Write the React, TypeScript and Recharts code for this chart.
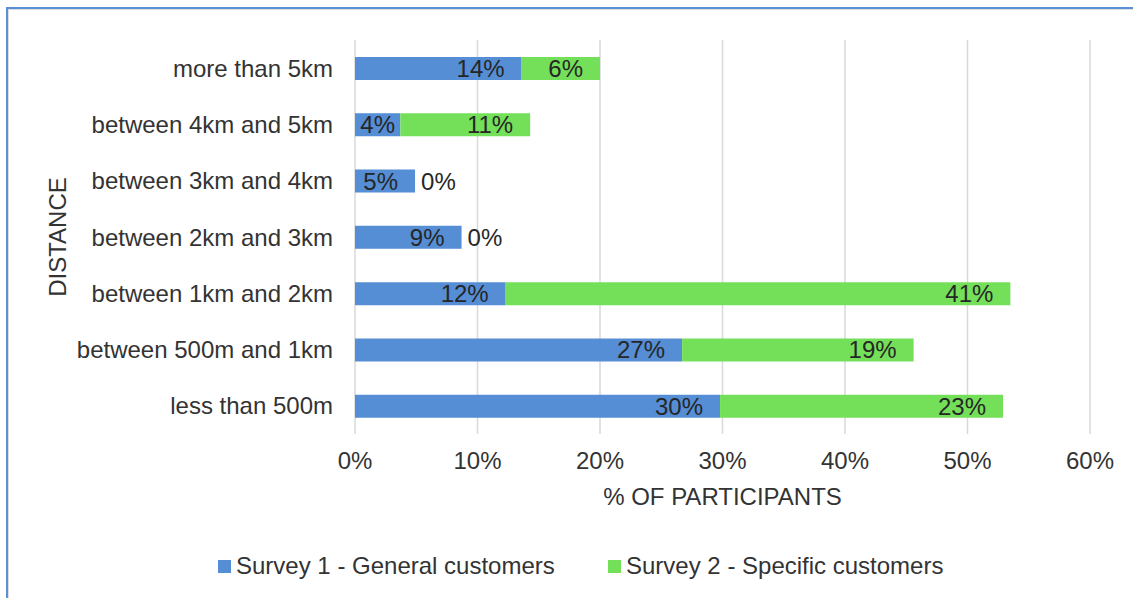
import React from 'react';
import { BarChart, Bar, XAxis, YAxis, CartesianGrid, Legend, LabelList } from 'recharts';

// Values (percent of participants)
const distances = [
  'more than 5km',
  'between 4km and 5km',
  'between 3km and 4km',
  'between 2km and 3km',
  'between 1km and 2km',
  'between 500m and 1km',
  'less than 500m',
];
const survey1 = [13.6, 3.7, 4.9, 8.7, 12.3, 26.7, 29.8];
const survey2 = [6.4, 10.6, 0, 0, 41.2, 18.9, 23.1];
const xTicks = [0, 10, 20, 30, 40, 50, 60];

const SERIES = [
  { key: 's1', name: 'Survey 1 - General customers', color: '#558ED5' },
  { key: 's2', name: 'Survey 2 - Specific customers', color: '#74E05A' },
];

const FONT = '"Liberation Sans", Arial, sans-serif';
const FS = 24;
const TEXT = '#333333';

const data = distances.map((name, i) => ({ name, s1: survey1[i], s2: survey2[i] }));

function labelText(tx: number, cy: number, anchor: 'start' | 'middle' | 'end', v: number, key?: string) {
  return (
    <text key={key} x={tx} y={cy} textAnchor={anchor} dominantBaseline="central"
      fontFamily={FONT} fontSize={FS} fill="#262626">
      {v}%
    </text>
  );
}

// Excel-style "inside end" labels
function insideEnd(x: number, y: number, width: number, height: number, value: number) {
  const v = Math.round(value);
  const cy = y + height / 2;
  if (width < 55) return labelText(x + width / 2, cy, 'middle', v);
  return labelText(x + width - 17, cy, 'end', v);
}

// survey 1 label also carries the "0%" of an empty survey 2 segment, just right of the stack
function Survey1Label(props: any) {
  const { x, y, width, height, value, index } = props;
  const zero = survey2[index] === 0;
  return (
    <g>
      {insideEnd(x, y, width, height, value)}
      {zero && labelText(x + width + 6, y + height / 2, 'start', 0)}
    </g>
  );
}

function Survey2Label(props: any) {
  const { x, y, width, height, value } = props;
  if (!value) return null;
  return insideEnd(x, y, width, height, value);
}

function renderLegend() {
  return (
    <div style={{ height: 40, display: 'flex', alignItems: 'center', fontFamily: FONT, fontSize: FS, color: TEXT }}>
      {SERIES.map((s, i) => (
        <div key={s.key} style={{ display: 'flex', alignItems: 'center', position: 'absolute', left: i === 0 ? 218 : 608 }}>
          <span style={{ width: 13, height: 13, background: s.color, marginRight: 5, display: 'inline-block' }} />
          <span>{s.name}</span>
        </div>
      ))}
    </div>
  );
}

export default function App() {
  return (
    <div style={{ position: 'absolute', left: 0, top: 0, width: 1133, height: 598, overflow: 'hidden', background: '#fff' }}>
      <div style={{ position: 'absolute', left: 6, top: 7, width: 1140, height: 600, borderTop: '2px solid #5B8FD8', borderLeft: '2px solid #5B8FD8' }}>
        <div style={{ position: 'absolute', left: 0, top: 0, right: 0, bottom: 0, borderTop: '1px solid #dcdcdc', borderLeft: '1px solid #dcdcdc' }} />
      </div>
      <div style={{ position: 'absolute', left: 0, top: 0 }}>
        <BarChart width={1133} height={598} data={data} layout="vertical"
          margin={{ top: 40, right: 43, bottom: 12, left: 0 }} barSize={23}>
          <CartesianGrid horizontal={false} stroke="#d9d9d9" strokeWidth={1.5} />
          <XAxis type="number" domain={[0, 60]} ticks={xTicks} interval={0}
            tickFormatter={(v) => `${v}%`} axisLine={false} tickLine={false}
            tickMargin={12} height={112}
            tick={{ fontFamily: FONT, fontSize: FS, fill: TEXT }}
            label={{ value: '% OF PARTICIPANTS', position: 'insideBottom', offset: 41,
              style: { fontFamily: FONT, fontSize: FS, fill: TEXT } }} />
          <YAxis type="category" dataKey="name" width={355} axisLine={false} tickLine={false}
            tickMargin={16} interval={0}
            tick={{ fontFamily: FONT, fontSize: FS, fill: TEXT }}
            label={{
              content: (p: any) => {
                const vb = p.viewBox;
                const cx = vb.x + 57;
                const cy = vb.y + vb.height / 2;
                return (
                  <text x={cx} y={cy} transform={`rotate(-90 ${cx} ${cy})`} textAnchor="middle"
                    dominantBaseline="central" fontFamily={FONT} fontSize={FS} fill={TEXT}>
                    DISTANCE
                  </text>
                );
              },
            }} />
          <Legend verticalAlign="bottom" content={renderLegend} />
          <Bar dataKey="s1" name={SERIES[0].name} stackId="a" fill={SERIES[0].color} isAnimationActive={false}>
            <LabelList dataKey="s1" content={Survey1Label} />
          </Bar>
          <Bar dataKey="s2" name={SERIES[1].name} stackId="a" fill={SERIES[1].color} isAnimationActive={false}>
            <LabelList dataKey="s2" content={Survey2Label} />
          </Bar>
        </BarChart>
      </div>
    </div>
  );
}
